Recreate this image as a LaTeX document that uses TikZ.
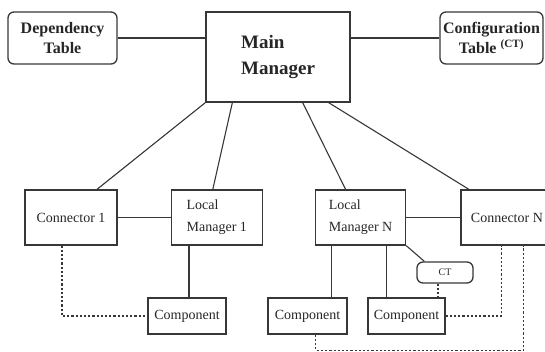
\documentclass[tikz,border=0pt]{standalone}
\usepackage{fontspec}
\setmainfont{Liberation Serif}
\usetikzlibrary{positioning}
\definecolor{mgrline}{RGB}{55,55,55}
\tikzset{
  mblk/.style={rectangle, draw=mgrline, line width=1.3pt, align=center, inner sep=2pt, text=black!85},
  tblk/.style={mblk, rounded corners=6pt, minimum height=52pt, font=\bfseries\fontsize{16}{20}\selectfont},
  lblk/.style={mblk, align=left, minimum width=91pt, minimum height=55pt, font=\fontsize{14}{22}\selectfont},
  cblk/.style={mblk, minimum height=36pt, font=\fontsize{14}{17}\selectfont},
  mlink/.style={line width=1.1pt, mgrline},
  dlink/.style={mlink, dash pattern=on 2.2pt off 2pt},
}

\begin{document}
\begin{tikzpicture}[x=1pt, y=1pt, node distance=53pt]
\useasboundingbox (0,0) rectangle (545,351);
% top row
\node[mblk, minimum width=144pt, minimum height=90pt, align=left, font=\bfseries\fontsize{19}{26}\selectfont](main) at (278,294){Main\\Manager};
\node[tblk, minimum width=109pt](dep) at (62.5,313){Dependency\\Table};
\node[tblk, minimum width=103pt](cfg) at (491.5,313){Configuration\\Table \textsuperscript{(CT)}};
% managers and connectors
\node[lblk, minimum width=92pt](con1) at (71,133.5){Connector 1};
\node[lblk, right=of con1](lm1){Local\\Manager 1};
\node[lblk, minimum width=90pt, right=52pt of lm1](lmn){Local\\Manager N};
\node[lblk, minimum width=92pt, right=54pt of lmn](conn){Connector N};
% components
\node[cblk, minimum width=78pt](comp1) at (187,35){Component};
\node[cblk, minimum width=79pt](compa) at (307.5,35){Component};
\node[cblk, minimum width=77pt](compb) at (406.5,35){Component};
\node[mblk, rounded corners=6pt, minimum width=56pt, minimum height=21pt, font=\fontsize{10}{12}\selectfont](ct) at (445,78.5){CT};
% solid links
\draw[mlink] (dep.east) -- (dep.east -| main.west);
\draw[mlink] (cfg.west) -- (cfg.west -| main.east);
\draw[mlink] (main.south west) -- ([xshift=26]con1.north);
\draw[mlink] ([xshift=27]main.south west) -- ([xshift=-4]lm1.north);
\draw[mlink] ([xshift=-48]main.south east) -- ([xshift=-15]lmn.north);
\draw[mlink] ([xshift=-22]main.south east) -- ([xshift=-38]conn.north);
\draw[mlink] (con1) -- (lm1);
\draw[mlink] (lmn) -- (conn);
\draw[mlink] ([xshift=2]comp1.north) -- ([xshift=2]comp1.north |- lm1.south);
\draw[mlink] ([xshift=24]compa.north) -- ([xshift=24]compa.north |- lmn.south);
\draw[mlink] ([xshift=-20]compb.north) -- ([xshift=-20]compb.north |- lmn.south);
\draw[mlink] (lmn.south east) -- ([xshift=8]ct.north west);
% dotted links
\draw[dlink] ([xshift=-9]con1.south) |- (comp1.west);
\draw[dlink] ([xshift=-7]ct.south) -- ([xshift=-7]ct.south |- compb.north);
\draw[dlink] (compb.east) -| ([xshift=-5]conn.south);
\draw[dlink] ([xshift=8]compa.south) -- ++(0,-15.5) -| ([xshift=17]conn.south);
\end{tikzpicture}
\end{document}
